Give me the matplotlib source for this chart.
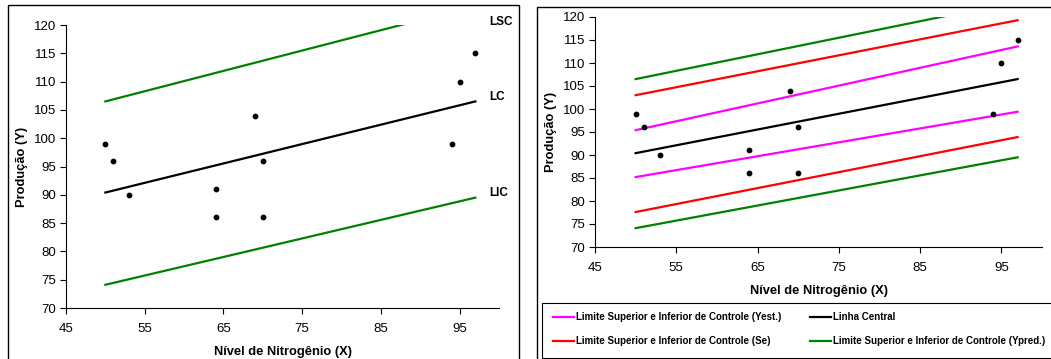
import matplotlib.pyplot as plt
from matplotlib.patches import Rectangle
from matplotlib.lines import Line2D

plt.rcParams["font.family"] = ["Liberation Sans", "DejaVu Sans"]

# observed data
nitrogen = [50, 51, 53, 64, 64, 69, 70, 70, 94, 95, 97]
producao = [99, 96, 90, 91, 86, 104, 96, 86, 99, 110, 115]

# line endpoints (x = 50 and x = 97)
line_x = [50, 97]
central = [90.4, 106.5]
yest_sup = [95.4, 113.6]
yest_inf = [85.2, 99.4]
se_sup = [103.0, 119.3]
se_inf = [77.6, 93.9]
ypred_sup = [106.5, 123.4]
ypred_inf = [74.1, 89.5]

x_ticks = [45, 55, 65, 75, 85, 95]
y_ticks = list(range(70, 121, 5))

GREEN = "#008000"
RED = "#ff0000"
MAGENTA = "#ff00ff"


def style_axes(ax):
    ax.set_xlim(45, 100)
    ax.set_ylim(70, 120)
    ax.set_xticks(x_ticks)
    ax.set_yticks(y_ticks)
    ax.spines["top"].set_visible(False)
    ax.spines["right"].set_visible(False)
    ax.tick_params(direction="out", length=4, width=0.8, labelsize=9.5, pad=3)
    ax.tick_params(axis="x", pad=6.5)
    ax.set_xlabel("Nível de Nitrogênio (X)", fontsize=9.3, fontweight="bold", labelpad=8.5)
    ax.set_ylabel("Produção (Y)", fontsize=9.3, fontweight="bold", labelpad=4)


fig = plt.figure(figsize=(10.51, 3.59), dpi=100)

# panel frames
fig.patches.append(Rectangle((8 / 1051, -0.05), 511 / 1051, 1.05 - 5 / 359,
                             transform=fig.transFigure, fill=False, edgecolor="black", lw=1))
fig.patches.append(Rectangle((537 / 1051, -0.05), 0.6, 1.05 - 7 / 359,
                             transform=fig.transFigure, fill=False, edgecolor="black", lw=1))

# left chart
ax1 = fig.add_axes([66 / 1051, 1 - 308 / 359, 433 / 1051, 283 / 359])
style_axes(ax1)
ax1.plot(line_x, ypred_sup, color=GREEN, lw=1.6)
ax1.plot(line_x, central, color="black", lw=1.6)
ax1.plot(line_x, ypred_inf, color=GREEN, lw=1.6)
ax1.scatter(nitrogen, producao, s=10, color="black", zorder=3)
for txt, ty in [("LSC", 120.5), ("LC", 107.3), ("LIC", 90.3)]:
    ax1.text(98.8, ty, txt, fontsize=8.5, fontweight="bold", ha="left", va="center", clip_on=False)

# right chart
ax2 = fig.add_axes([595 / 1051, 1 - 247 / 359, 447 / 1051, 230 / 359])
style_axes(ax2)
ax2.plot(line_x, ypred_sup, color=GREEN, lw=1.6)
ax2.plot(line_x, se_sup, color=RED, lw=1.6)
ax2.plot(line_x, yest_sup, color=MAGENTA, lw=1.6)
ax2.plot(line_x, central, color="black", lw=1.6)
ax2.plot(line_x, yest_inf, color=MAGENTA, lw=1.6)
ax2.plot(line_x, se_inf, color=RED, lw=1.6)
ax2.plot(line_x, ypred_inf, color=GREEN, lw=1.6)
ax2.scatter(nitrogen, producao, s=10, color="black", zorder=3)

# legend box
fig.patches.append(Rectangle((542 / 1051, 1 - 358 / 359), 0.6, 55 / 359,
                             transform=fig.transFigure, fill=False, edgecolor="black", lw=0.8))
handles = [
    Line2D([], [], color=MAGENTA, lw=1.6),
    Line2D([], [], color=RED, lw=1.6),
    Line2D([], [], color="black", lw=1.6),
    Line2D([], [], color=GREEN, lw=1.6),
]
labels = [
    "Limite Superior e Inferior de Controle (Yest.)",
    "Limite Superior e Inferior de Controle (Se)",
    "Linha Central",
    "Limite Superior e Inferior de Controle (Ypred.)",
]
fig.legend(handles, labels, ncol=2, loc="center left", bbox_to_anchor=(549 / 1051, 1 - 329 / 359),
           frameon=False, prop={"size": 7, "weight": "bold"}, handlelength=2.2,
           handletextpad=0.2, columnspacing=2.9, labelspacing=1.45, borderaxespad=0)

fig.savefig("out.png", dpi=100)
